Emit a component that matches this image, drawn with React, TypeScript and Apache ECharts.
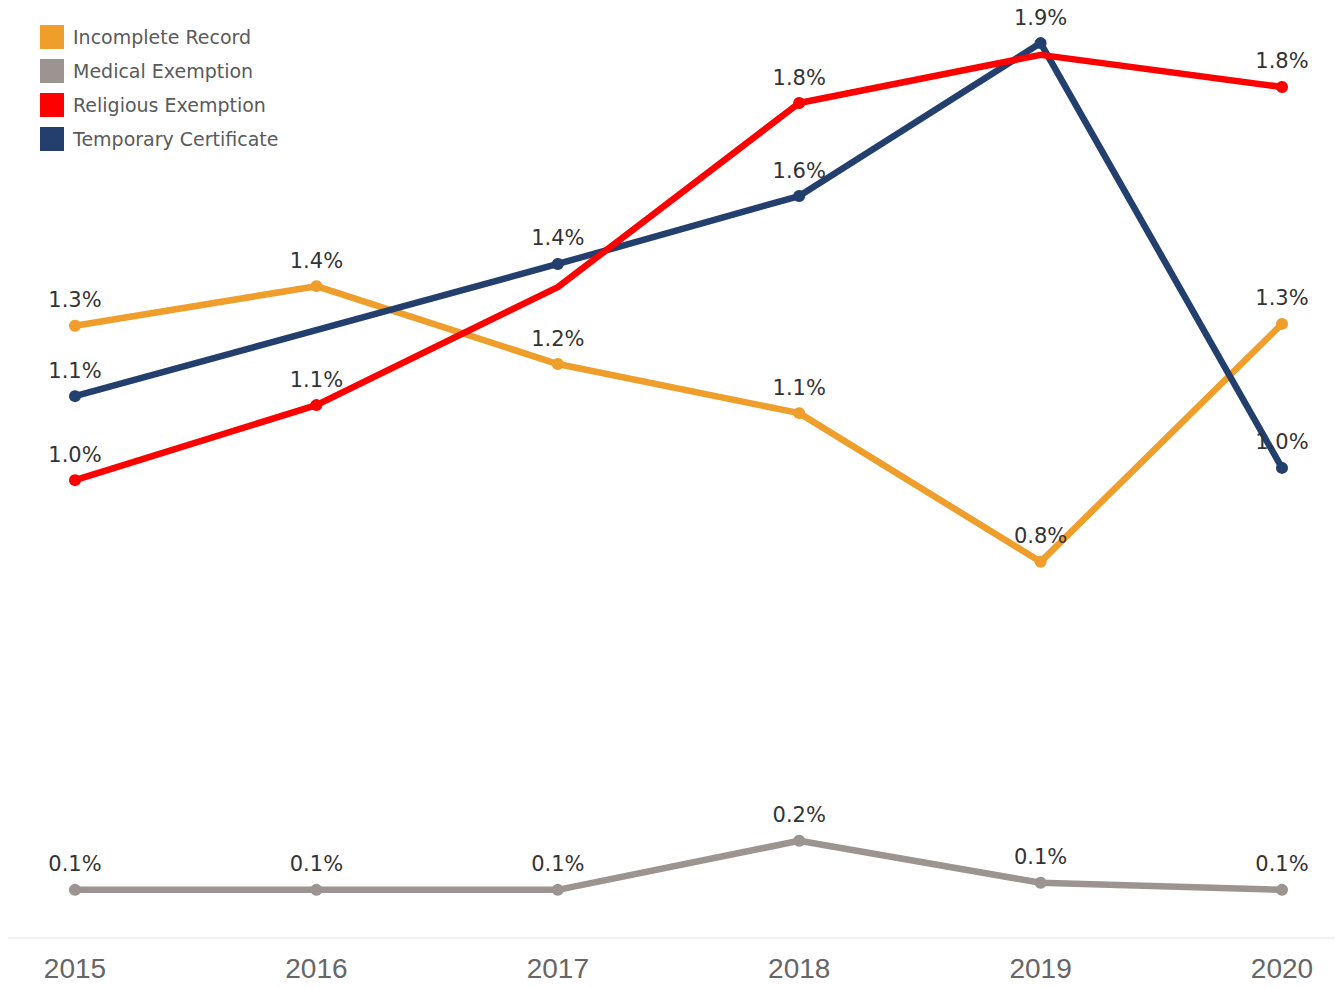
import React, { useEffect, useRef } from "react";
import * as echarts from "echarts";

const years = ["2015", "2016", "2017", "2018", "2019", "2020"];
const incompleteRecord = [1.297, 1.381, 1.216, 1.112, 0.797, 1.301];
const medicalExemption = [0.102, 0.102, 0.102, 0.206, 0.117, 0.102];
const religiousExemption = [0.97, 1.129, 1.379, 1.769, 1.871, 1.803];
const temporaryCertificate: (number | null)[] = [1.148, null, 1.428, 1.572, 1.896, 0.996];
// indices of points whose label/mark is hidden in the original (overlaps)
const religiousHidden = [2, 4];

const COLORS = {
  incomplete: "#EF9E2B",
  medical: "#9C9490",
  religious: "#FF0000",
  temporary: "#223F6D",
};

function buildData(values: (number | null)[], hidden: number[] = []) {
  return values.map((v, i) =>
    hidden.includes(i)
      ? { value: v, label: { show: false }, symbol: "none" }
      : v
  );
}

export default function App() {
  const ref = useRef<HTMLDivElement>(null);
  useEffect(() => {
    if (!ref.current) return;
    const chart = echarts.init(ref.current, null, { renderer: "svg" });
    const labelStyle = {
      show: true,
      position: "top" as const,
      distance: 9,
      fontFamily: "DejaVu Sans",
      fontSize: 21,
      color: "#333333",
      formatter: (p: any) => (p.value == null ? "" : Number(p.value).toFixed(1) + "%"),
    };
    const mk = (name: string, data: any[], color: string, z: number) => ({
      name,
      type: "line",
      data,
      z,
      connectNulls: true,
      symbol: "circle",
      symbolSize: 12,
      showAllSymbol: true,
      lineStyle: { width: 6.5, color },
      itemStyle: { color },
      label: labelStyle,
      emphasis: { disabled: true },
    });
    chart.setOption({
      animation: false,
      backgroundColor: "#ffffff",
      legend: {
        orient: "vertical",
        left: 40,
        top: 25,
        padding: 0,
        icon: "rect",
        itemWidth: 24,
        itemHeight: 24,
        itemGap: 10,
        selectedMode: false,
        textStyle: {
          fontFamily: "DejaVu Sans",
          fontSize: 19,
          color: "#5a5a5a",
          padding: [0, 0, 0, 4],
        },
        data: [
          "Incomplete Record",
          "Medical Exemption",
          "Religious Exemption",
          "Temporary Certificate",
        ],
      },
      grid: { left: 75, right: 61, top: 17.6, bottom: 49 },
      xAxis: {
        type: "category",
        data: years,
        boundaryGap: false,
        axisLine: { show: false },
        axisTick: { show: false },
        splitLine: { show: false },
        axisLabel: {
          fontFamily: "Liberation Sans",
          fontSize: 28,
          color: "#666666",
          margin: 16,
        },
      },
      yAxis: {
        type: "value",
        min: 0,
        max: 1.95,
        show: false,
        splitLine: { show: false },
      },
      graphic: [
        {
          type: "line",
          shape: { x1: 8, y1: 938, x2: 1335, y2: 938 },
          style: { stroke: "#eeeeee", lineWidth: 1.5 },
          silent: true,
        },
      ],
      series: [
        mk("Medical Exemption", buildData(medicalExemption), COLORS.medical, 2),
        mk("Incomplete Record", buildData(incompleteRecord), COLORS.incomplete, 3),
        mk("Temporary Certificate", buildData(temporaryCertificate), COLORS.temporary, 4),
        mk("Religious Exemption", buildData(religiousExemption, religiousHidden), COLORS.religious, 5),
      ],
    });
    return () => chart.dispose();
  }, []);
  return <div ref={ref} style={{ width: 1343, height: 987, position: "absolute", left: 0, top: 0 }} />;
}
